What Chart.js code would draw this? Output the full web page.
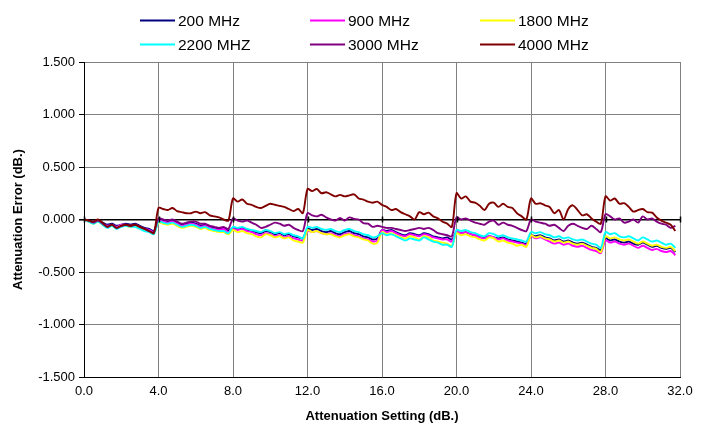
<!DOCTYPE html>
<html>
<head>
<meta charset="utf-8">
<script src="https://cdn.jsdelivr.net/npm/chart.js@4.4.1/dist/chart.umd.min.js"></script>
<style>
  html, body { margin: 0; padding: 0; background: #ffffff; }
  #wrap { width: 706px; height: 424px; position: relative; }
</style>
</head>
<body>
<div id="wrap"><canvas id="c" width="706" height="424"></canvas></div>
<script>
// Attenuation settings (dB)
const attenuation = [
  0.00,0.25,0.50,0.75,1.00,1.25,1.50,1.75,2.00,2.25,2.50,2.75,3.00,3.25,3.50,3.75,
  4.00,4.25,4.50,4.75,5.00,5.25,5.50,5.75,6.00,6.25,6.50,6.75,7.00,7.25,7.50,7.75,
  8.00,8.25,8.50,8.75,9.00,9.25,9.50,9.75,10.00,10.25,10.50,10.75,11.00,11.25,11.50,11.75,
  12.00,12.25,12.50,12.75,13.00,13.25,13.50,13.75,14.00,14.25,14.50,14.75,15.00,15.25,15.50,15.75,
  16.00,16.25,16.50,16.75,17.00,17.25,17.50,17.75,18.00,18.25,18.50,18.75,19.00,19.25,19.50,19.75,
  20.00,20.25,20.50,20.75,21.00,21.25,21.50,21.75,22.00,22.25,22.50,22.75,23.00,23.25,23.50,23.75,
  24.00,24.25,24.50,24.75,25.00,25.25,25.50,25.75,26.00,26.25,26.50,26.75,27.00,27.25,27.50,27.75,
  28.00,28.25,28.50,28.75,29.00,29.25,29.50,29.75,30.00,30.25,30.50,30.75,31.00,31.25,31.50,31.75
];

const seriesNames = ["200 MHz", "900 MHz", "1800 MHz", "2200 MHZ", "3000 MHz", "4000 MHz"];

const err200 = [
  0,-0.01,-0.02,-0.01,-0.03,-0.05,-0.04,-0.06,-0.05,-0.04,-0.05,-0.04,-0.06,-0.08,-0.09,-0.11,
  0.00,-0.01,-0.02,-0.01,-0.03,-0.05,-0.04,-0.03,-0.04,-0.06,-0.05,-0.07,-0.08,-0.09,-0.08,-0.11,
  -0.08,-0.09,-0.08,-0.10,-0.11,-0.12,-0.13,-0.11,-0.12,-0.14,-0.13,-0.15,-0.14,-0.16,-0.17,-0.18,
  -0.09,-0.10,-0.09,-0.11,-0.12,-0.11,-0.13,-0.14,-0.12,-0.11,-0.13,-0.14,-0.16,-0.17,-0.19,-0.18,
  -0.10,-0.11,-0.10,-0.12,-0.14,-0.15,-0.13,-0.14,-0.15,-0.13,-0.14,-0.16,-0.17,-0.18,-0.17,-0.19,
  -0.12,-0.13,-0.12,-0.14,-0.15,-0.16,-0.17,-0.16,-0.17,-0.18,-0.17,-0.19,-0.20,-0.21,-0.22,-0.23,
  -0.15,-0.16,-0.15,-0.17,-0.18,-0.20,-0.19,-0.21,-0.20,-0.22,-0.23,-0.22,-0.24,-0.26,-0.27,-0.29,
  -0.18,-0.20,-0.19,-0.21,-0.22,-0.21,-0.23,-0.24,-0.22,-0.24,-0.26,-0.25,-0.27,-0.28,-0.27,-0.31
];
const err900 = [
  0,-0.02,-0.03,-0.01,-0.04,-0.06,-0.05,-0.07,-0.05,-0.05,-0.06,-0.05,-0.07,-0.09,-0.10,-0.12,
  -0.01,-0.02,-0.03,-0.02,-0.04,-0.06,-0.05,-0.04,-0.05,-0.07,-0.06,-0.08,-0.09,-0.10,-0.09,-0.12,
  -0.09,-0.10,-0.09,-0.11,-0.12,-0.14,-0.15,-0.13,-0.14,-0.16,-0.15,-0.17,-0.16,-0.18,-0.19,-0.20,
  -0.11,-0.12,-0.11,-0.13,-0.14,-0.13,-0.15,-0.16,-0.14,-0.13,-0.15,-0.16,-0.18,-0.19,-0.21,-0.20,
  -0.10,-0.12,-0.11,-0.13,-0.15,-0.16,-0.14,-0.15,-0.16,-0.14,-0.15,-0.17,-0.18,-0.19,-0.19,-0.21,
  -0.11,-0.13,-0.12,-0.14,-0.15,-0.17,-0.18,-0.16,-0.17,-0.19,-0.18,-0.20,-0.21,-0.22,-0.23,-0.24,
  -0.16,-0.18,-0.17,-0.19,-0.21,-0.23,-0.22,-0.24,-0.23,-0.25,-0.26,-0.25,-0.27,-0.29,-0.30,-0.32,
  -0.20,-0.22,-0.21,-0.23,-0.24,-0.23,-0.25,-0.27,-0.25,-0.27,-0.29,-0.28,-0.30,-0.31,-0.30,-0.34
];
const err1800 = [
  0,-0.02,-0.04,-0.02,-0.05,-0.07,-0.06,-0.08,-0.06,-0.06,-0.07,-0.06,-0.08,-0.10,-0.11,-0.13,
  -0.03,-0.04,-0.05,-0.04,-0.06,-0.08,-0.07,-0.06,-0.07,-0.09,-0.08,-0.10,-0.11,-0.12,-0.12,-0.14,
  -0.10,-0.12,-0.11,-0.13,-0.14,-0.16,-0.17,-0.14,-0.15,-0.17,-0.16,-0.18,-0.17,-0.20,-0.21,-0.22,
  -0.10,-0.12,-0.11,-0.13,-0.14,-0.14,-0.16,-0.17,-0.15,-0.14,-0.16,-0.17,-0.19,-0.20,-0.23,-0.22,
  -0.12,-0.14,-0.13,-0.15,-0.17,-0.18,-0.16,-0.17,-0.19,-0.16,-0.17,-0.20,-0.21,-0.22,-0.23,-0.25,
  -0.13,-0.15,-0.14,-0.16,-0.17,-0.19,-0.20,-0.17,-0.18,-0.21,-0.20,-0.22,-0.23,-0.25,-0.24,-0.26,
  -0.15,-0.17,-0.16,-0.18,-0.19,-0.21,-0.20,-0.22,-0.21,-0.23,-0.24,-0.23,-0.25,-0.27,-0.28,-0.31,
  -0.16,-0.18,-0.17,-0.19,-0.20,-0.19,-0.21,-0.23,-0.21,-0.23,-0.25,-0.24,-0.26,-0.27,-0.26,-0.30
];
const err2200 = [
  0,-0.02,-0.04,-0.02,-0.05,-0.08,-0.06,-0.09,-0.07,-0.06,-0.07,-0.07,-0.09,-0.11,-0.12,-0.14,
  -0.02,-0.03,-0.04,-0.03,-0.05,-0.07,-0.06,-0.05,-0.06,-0.08,-0.07,-0.09,-0.10,-0.11,-0.11,-0.13,
  -0.07,-0.08,-0.07,-0.09,-0.10,-0.11,-0.12,-0.10,-0.11,-0.13,-0.12,-0.14,-0.13,-0.15,-0.16,-0.18,
  -0.07,-0.08,-0.07,-0.09,-0.10,-0.09,-0.11,-0.12,-0.10,-0.09,-0.11,-0.12,-0.14,-0.15,-0.17,-0.16,
  -0.13,-0.15,-0.14,-0.16,-0.18,-0.20,-0.18,-0.19,-0.20,-0.17,-0.19,-0.21,-0.22,-0.24,-0.24,-0.26,
  -0.10,-0.11,-0.10,-0.12,-0.13,-0.15,-0.16,-0.13,-0.14,-0.16,-0.15,-0.17,-0.18,-0.19,-0.20,-0.21,
  -0.12,-0.13,-0.12,-0.14,-0.15,-0.17,-0.16,-0.18,-0.17,-0.19,-0.20,-0.19,-0.21,-0.23,-0.24,-0.27,
  -0.12,-0.14,-0.13,-0.16,-0.17,-0.16,-0.18,-0.20,-0.17,-0.19,-0.21,-0.20,-0.22,-0.24,-0.23,-0.27
];
const err3000 = [
  0,-0.01,-0.03,-0.01,-0.04,-0.07,-0.05,-0.08,-0.06,-0.05,-0.06,-0.05,-0.07,-0.09,-0.11,-0.12,
  0.01,0.00,-0.01,0.00,-0.02,-0.04,-0.03,-0.02,-0.02,-0.04,-0.04,-0.06,-0.07,-0.08,-0.07,-0.09,
  0.01,-0.01,-0.02,-0.01,-0.03,-0.05,-0.08,-0.07,-0.05,-0.03,-0.04,-0.06,-0.05,-0.08,-0.10,-0.11,
  0.06,0.04,0.03,0.045,0.02,0.00,-0.01,0.015,-0.01,0.02,0.005,0.00,-0.035,-0.04,-0.07,-0.06,
  -0.07,-0.08,-0.08,-0.09,-0.10,-0.11,-0.10,-0.09,-0.08,-0.09,-0.08,-0.10,-0.13,-0.14,-0.15,-0.16,
  0.02,0.00,0.01,-0.01,-0.03,-0.04,-0.05,-0.02,-0.01,-0.05,-0.03,-0.05,-0.06,-0.08,-0.10,-0.11,
  0.00,-0.02,-0.03,-0.04,-0.06,-0.05,-0.08,-0.11,-0.06,-0.04,-0.06,-0.08,-0.09,-0.06,-0.09,-0.12,
  0.05,0.03,0.00,0.01,-0.03,-0.02,0.00,-0.03,0.03,0.00,0.01,-0.02,-0.04,-0.05,-0.08,-0.06
];
const err4000 = [
  0,-0.01,-0.02,0.00,-0.03,-0.07,-0.05,-0.08,-0.06,-0.05,-0.06,-0.05,-0.07,-0.09,-0.11,-0.13,
  0.11,0.10,0.09,0.11,0.08,0.07,0.06,0.06,0.075,0.06,0.07,0.04,0.03,0.02,0.00,-0.01,
  0.20,0.17,0.19,0.15,0.14,0.12,0.11,0.13,0.15,0.14,0.13,0.12,0.10,0.08,0.10,0.06,
  0.29,0.27,0.29,0.25,0.26,0.24,0.22,0.235,0.22,0.23,0.24,0.20,0.19,0.17,0.16,0.17,
  0.14,0.12,0.09,0.10,0.07,0.05,0.03,0.00,0.07,0.05,0.065,0.03,0.01,-0.02,-0.04,-0.07,
  0.25,0.20,0.22,0.17,0.16,0.13,0.09,0.15,0.16,0.12,0.15,0.12,0.11,0.06,0.03,0.00,
  0.20,0.15,0.155,0.135,0.12,0.06,0.09,0.00,0.10,0.135,0.09,0.04,0.05,0.01,-0.02,-0.04,
  0.22,0.18,0.20,0.15,0.155,0.12,0.075,0.09,0.10,0.07,0.065,0.02,-0.01,-0.03,-0.05,-0.11
];

const yTickValues = [-1.5, -1.0, -0.5, 0.0, 0.5, 1.0, 1.5];
const xTickValues = [0, 4, 8, 12, 16, 20, 24, 28, 32];

const seriesValues = [err200, err900, err1800, err2200, err3000, err4000];
const seriesColors = ["#000080", "#FF00FF", "#FFFF00", "#00FFFF", "#800080", "#800000"];

const FONT = '"Liberation Sans", Arial, Helvetica, sans-serif';

const datasets = seriesNames.map((name, i) => ({
  label: name,
  data: attenuation.map((x, k) => ({ x: x, y: seriesValues[i][k] })),
  borderColor: seriesColors[i],
  backgroundColor: seriesColors[i],
  borderWidth: 1.9,
  pointRadius: 0,
  pointHoverRadius: 0,
  fill: false,
  tension: 0.3,
  order: seriesNames.length - i
}));

// Grid legend (3 columns x 2 rows) like the reference
const gridLegend = {
  id: 'gridLegend',
  afterDraw(chart) {
    const ctx = chart.ctx;
    ctx.save();
    ctx.font = '15.5px ' + FONT;
    ctx.textBaseline = 'middle';
    ctx.textAlign = 'left';
    chart.data.datasets.forEach((ds, i) => {
      const col = i % 3, row = Math.floor(i / 3);
      const x = 140 + col * 170;
      const y = 20.5 + row * 24;
      ctx.strokeStyle = ds.borderColor;
      ctx.lineWidth = 1.8;
      ctx.beginPath();
      ctx.moveTo(x, y);
      ctx.lineTo(x + 35, y);
      ctx.stroke();
      ctx.fillStyle = '#000';
      ctx.fillText(ds.label, x + 38, y + 1);
    });
    ctx.restore();
  }
};

// small x-axis tick marks crossing the zero line
const zeroTicks = {
  id: 'zeroTicks',
  afterDatasetsDraw(chart) {
    const ctx = chart.ctx;
    const xs = chart.scales.x, ys = chart.scales.y;
    const y0 = ys.getPixelForValue(0);
    ctx.save();
    ctx.strokeStyle = '#000';
    ctx.lineWidth = 1.5;
    xTickValues.forEach(v => {
      const px = Math.round(xs.getPixelForValue(v)) + 0.5;
      ctx.beginPath();
      ctx.moveTo(px, y0 - 3);
      ctx.lineTo(px, y0 + 3);
      ctx.stroke();
    });
    ctx.restore();
  }
};

new Chart(document.getElementById('c'), {
  type: 'line',
  data: { datasets: datasets },
  plugins: [gridLegend, zeroTicks],
  options: {
    responsive: false,
    animation: false,
    events: [],
    layout: { padding: { left: 0, right: 26, top: 62, bottom: 0 } },
    plugins: {
      legend: { display: false },
      tooltip: { enabled: false },
      title: { display: false }
    },
    scales: {
      x: {
        type: 'linear',
        min: 0,
        max: 32,
        afterBuildTicks(scale) { scale.ticks = xTickValues.map(v => ({ value: v })); },
        afterFit(scale) { scale.height = 47; },
        ticks: {
          color: '#000',
          font: { family: FONT, size: 13 },
          padding: 7,
          maxRotation: 0,
          callback: (v) => Number(v).toFixed(1)
        },
        grid: {
          color: '#808080',
          lineWidth: 1,
          drawTicks: false
        },
        border: { color: '#000', width: 1 },
        title: {
          display: true,
          text: 'Attenuation Setting (dB.)',
          color: '#000',
          font: { family: FONT, size: 13, weight: 'bold' },
          padding: { top: 4, bottom: 0 }
        }
      },
      y: {
        type: 'linear',
        min: -1.5,
        max: 1.5,
        afterBuildTicks(scale) { scale.ticks = yTickValues.map(v => ({ value: v })); },
        afterFit(scale) { scale.width = 84; },
        ticks: {
          color: '#000',
          font: { family: FONT, size: 13 },
          padding: 4,
          callback: (v) => Number(v).toFixed(3)
        },
        grid: {
          color: (c) => (c.tick && Math.abs(c.tick.value) < 1e-9) ? '#000' : '#808080',
          lineWidth: (c) => (c.tick && Math.abs(c.tick.value) < 1e-9) ? 1.6 : 1,
          tickColor: '#000',
          tickLength: 5,
          drawTicks: true
        },
        border: { color: '#000', width: 1 },
        title: {
          display: true,
          text: 'Attenuation Error (dB.)',
          color: '#000',
          font: { family: FONT, size: 13, weight: 'bold' },
          padding: { top: 11, bottom: 0 }
        }
      }
    }
  }
});
</script>
</body>
</html>
